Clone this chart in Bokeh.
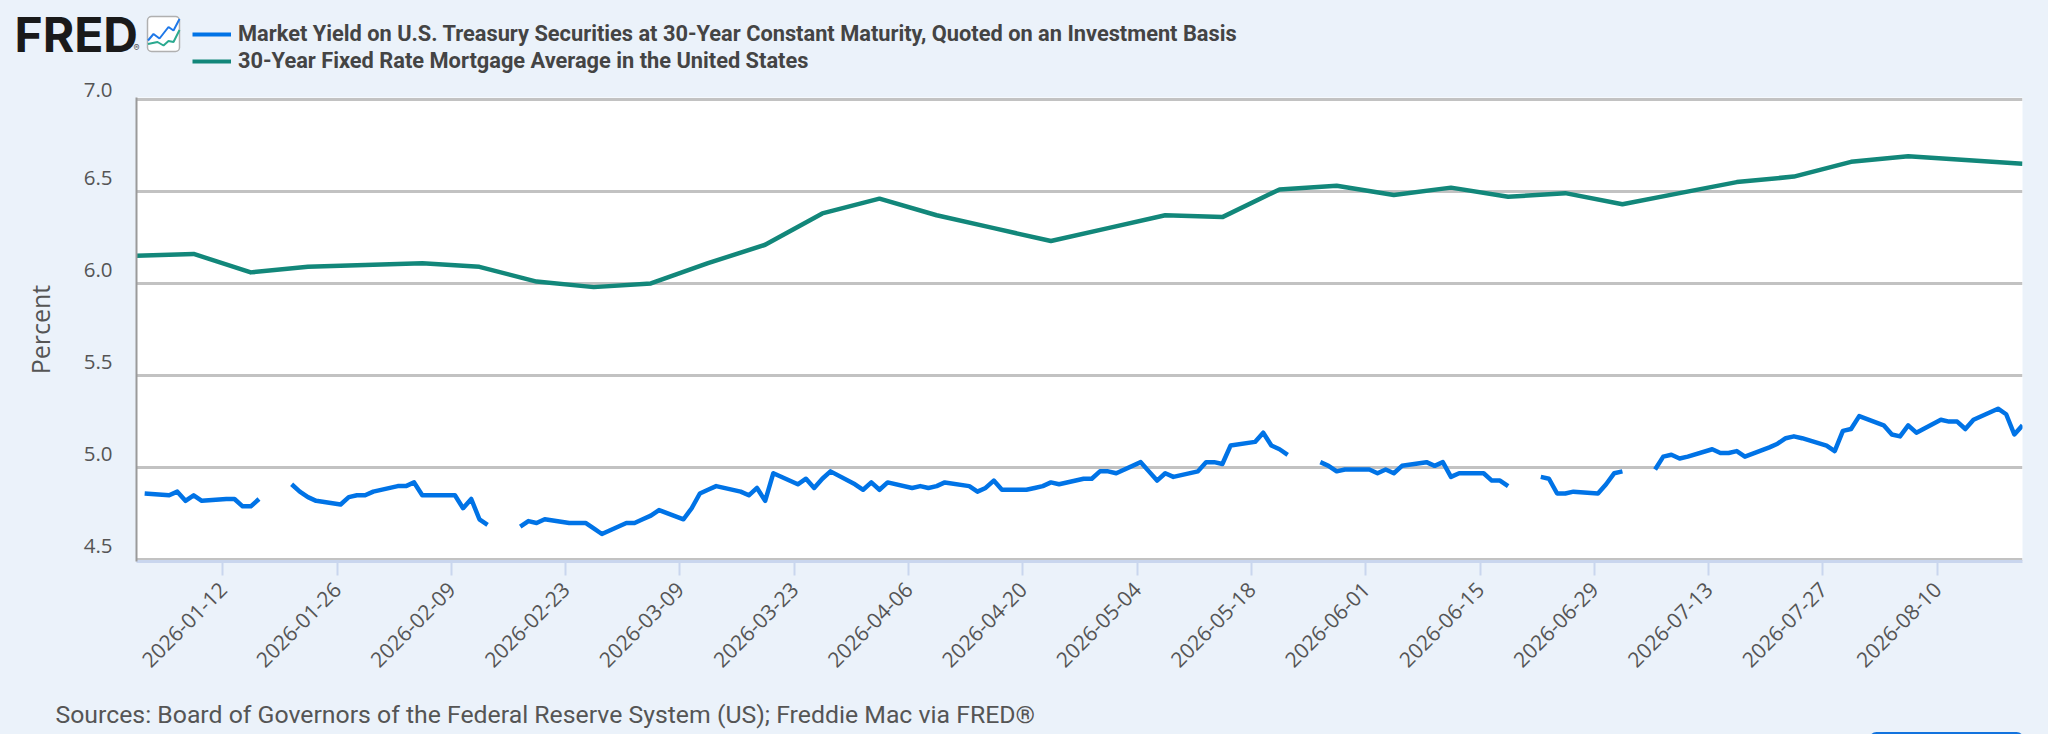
import numpy as np
import pandas as pd
from bokeh.core.properties import value
from bokeh.embed import file_html
from bokeh.layouts import column
from bokeh.resources import INLINE
from bokeh.plotting import figure
from bokeh.models import (FixedTicker, DatetimeTickFormatter, Range1d, Legend, LegendItem, BoxAnnotation)

SERIES_A = "Market Yield on U.S. Treasury Securities at 30-Year Constant Maturity, Quoted on an Investment Basis"
SERIES_B = "30-Year Fixed Rate Mortgage Average in the United States"
SOURCE = "Sources: Board of Governors of the Federal Reserve System (US); Freddie Mac via FRED\u00ae"
Y_LABEL = "Percent"

y_ticks = [4.5, 5.0, 5.5, 6.0, 6.5, 7.0]
y_tick_labels = ["4.5", "5.0", "5.5", "6.0", "6.5", "7.0"]
x_tick_dates = ["2026-01-12", "2026-01-26", "2026-02-09", "2026-02-23", "2026-03-09", "2026-03-23",
                "2026-04-06", "2026-04-20", "2026-05-04", "2026-05-18", "2026-06-01", "2026-06-15",
                "2026-06-29", "2026-07-13", "2026-07-27", "2026-08-10"]

# business days from 2026-01-02 to 2026-08-20 (None = market holiday)
treasury = [4.86,
    4.85, 4.87, 4.82, 4.85, 4.82,
    4.83, 4.83, 4.79, 4.79, 4.83,
    None, 4.91, 4.87, 4.84, 4.82,
    4.80, 4.84, 4.85, 4.85, 4.87,
    4.90, 4.90, 4.92, 4.85, 4.85,
    4.85, 4.78, 4.83, 4.72, 4.69,
    None, 4.68, 4.71, 4.70, 4.72,
    4.70, 4.70, 4.70, 4.67, 4.64,
    4.70, 4.70, 4.72, 4.74, 4.77,
    4.72, 4.78, 4.86, 4.88, 4.90,
    4.87, 4.85, 4.89, 4.82, 4.97,
    4.91, 4.94, 4.89, 4.94, 4.98,
    4.91, 4.88, 4.92, 4.88, 4.92,
    4.89, 4.90, 4.89, 4.90, 4.92,
    4.90, 4.87, 4.89, 4.93, 4.88,
    4.88, 4.89, 4.90, 4.92, 4.91,
    4.94, 4.94, 4.98, 4.98, 4.97,
    5.03, 4.98, 4.93, 4.97, 4.95,
    4.98, 5.03, 5.03, 5.02, 5.12,
    5.14, 5.19, 5.12, 5.10, 5.07,
    None, 5.03, 5.01, 4.98, 4.99,
    4.99, 4.97, 4.99, 4.97, 5.01,
    5.03, 5.01, 5.03, 4.95, 4.97,
    4.97, 4.93, 4.93, 4.90, None,
    4.95, 4.94, 4.86, 4.86, 4.87,
    4.86, 4.91, 4.97, 4.98, None,
    4.99, 5.06, 5.07, 5.05, 5.06,
    5.10, 5.08, 5.08, 5.09, 5.06,
    5.11, 5.13, 5.16, 5.17, 5.16,
    5.12, 5.09, 5.20, 5.21, 5.28,
    5.23, 5.18, 5.17, 5.23, 5.19,
    5.26, 5.25, 5.25, 5.21, 5.26,
    5.32, 5.29, 5.18, 5.23]

# Thursdays from 2026-01-01 to 2026-08-20
mortgage = [6.15, 6.16, 6.06, 6.09, 6.10, 6.11, 6.09, 6.01, 5.98, 6.00, 6.11, 6.21, 6.38,
            6.46, 6.37, 6.30, 6.23, 6.30, 6.37, 6.36, 6.51, 6.53, 6.48, 6.52, 6.47, 6.49,
            6.43, 6.49, 6.55, 6.58, 6.66, 6.69, 6.67, 6.65]

BG = "#ebf2fa"
BLUE = "#0073e6"
GREEN = "#12877a"
TXT = "#555555"
LW = 4.5

shift = pd.Timedelta(hours=10.5)   # points sit half a day right of the midnight ticks
treasury_x = pd.bdate_range("2026-01-02", "2026-08-20") + shift
mortgage_x = pd.date_range("2026-01-01", "2026-08-20", freq="7D") + shift
treasury_y = np.array([np.nan if v is None else v for v in treasury], dtype=float)
x_start, x_end = mortgage_x[0], mortgage_x[-1]

W = 2048
HEAD_H, MAIN_H, FOOT_H = 74, 616, 44
L, T, FW, FH = 136, 23, 1886, 464
pad = 0.0092   # keeps the 7.0 and 4.5 rules from being cut by the plot edge

# ---------- main chart
p = figure(width=W, height=MAIN_H, output_backend="svg", toolbar_location=None, x_axis_type="datetime",
           x_range=Range1d(x_start, x_end), y_range=Range1d(4.5 - pad, 7.0 + pad),
           min_border_left=L, min_border_top=T, min_border_right=W - L - FW, min_border_bottom=MAIN_H - T - FH,
           background_fill_color="white", border_fill_color=BG, outline_line_color=None, frame_align=False)

p.xgrid.visible = False
p.ygrid.ticker = FixedTicker(ticks=y_ticks)
p.ygrid.grid_line_color = "#c2c2c2"
p.ygrid.grid_line_width = 3

ya = p.yaxis[0]
ya.ticker = FixedTicker(ticks=y_ticks)
# the blank second line lifts each label above its rule, as in the reference
ya.major_label_overrides = {v: t + "\n " for v, t in zip(y_ticks, y_tick_labels)}
ya.major_label_text_font = "Open Sans"
ya.major_label_text_font_size = "20.5px"
ya.major_label_text_line_height = 1.05
ya.major_label_text_color = TXT
ya.major_label_standoff = 18
ya.major_tick_line_color = None
ya.minor_tick_line_color = None
ya.axis_line_color = "#9a9a9a"
ya.axis_line_width = 2
ya.axis_label = Y_LABEL
ya.axis_label_text_font = "Open Sans"
ya.axis_label_text_font_size = "25px"
ya.axis_label_text_font_style = "normal"
ya.axis_label_text_color = TXT
ya.axis_label_standoff = 24

xa = p.xaxis[0]
xa.ticker = FixedTicker(ticks=[pd.Timestamp(d).value / 1e6 for d in x_tick_dates])
fmt = "%Y-%m-%d"
xa.formatter = DatetimeTickFormatter(days=fmt, months=fmt, years=fmt, hours=fmt, minutes=fmt, seconds=fmt,
                                     milliseconds=fmt, microseconds=fmt, hourmin=fmt, minsec=fmt)
xa.major_label_orientation = np.pi / 4
xa.major_label_text_font = "Open Sans"
xa.major_label_text_font_size = "21px"
xa.major_label_text_color = TXT
xa.major_label_standoff = 10
xa.major_tick_in = 0
xa.major_tick_out = 14
xa.minor_tick_line_color = None
xa.major_tick_line_color = "#c9d6ee"
xa.major_tick_line_width = 2
xa.axis_line_color = "#c9d6ee"
xa.axis_line_width = 3

p.line(treasury_x, treasury_y, line_color=BLUE, line_width=LW, line_join="round")
p.line(mortgage_x, mortgage, line_color=GREEN, line_width=LW, line_join="round")

# ---------- header: logo, icon, legend (coordinates are page pixels)
head = figure(width=W, height=HEAD_H, output_backend="svg", toolbar_location=None,
              x_range=Range1d(0, W), y_range=Range1d(HEAD_H, 0), x_axis_location=None, y_axis_location=None,
              min_border=0, background_fill_color=BG, border_fill_color=BG, outline_line_color=None,
              frame_align=False)
head.grid.visible = False
head.text([14], [33.5], text=["FRED"], text_font=value("Inter"), text_font_style="bold", text_font_size="48px",
          text_color="#1a1a1a", text_baseline="middle")
head.text([133], [47], text=["\u00ae"], text_font=value("Inter"), text_font_size="9px",
          text_color="#555555", text_baseline="middle")
head.add_layout(BoxAnnotation(left=147, right=179, top=16, bottom=51, fill_color="white", fill_alpha=1,
                              line_color="#b0b0b0", line_alpha=1, line_width=1.5, border_radius=4, level="glyph"))
head.line([147.5, 153, 159, 168, 173, 179], [40, 33.5, 38, 26.5, 30, 18.5], line_color="#1f78e8", line_width=2,
          level="overlay")
head.line([147.5, 157, 163, 168, 173, 179], [43.5, 41.5, 45, 40.5, 41.5, 29.5], line_color="#2aa98f", line_width=2,
          level="overlay")
key_a = head.line([np.nan], [np.nan], line_color=BLUE, line_width=4)
key_b = head.line([np.nan], [np.nan], line_color=GREEN, line_width=4)
legend = Legend(items=[LegendItem(label=SERIES_A, renderers=[key_a]), LegendItem(label=SERIES_B, renderers=[key_b])],
                location=(192, 1), orientation="vertical", border_line_color=None,
                background_fill_alpha=0, margin=0, padding=0, spacing=2,
                glyph_width=39, glyph_height=22, label_height=22, label_standoff=7,
                label_text_font="Roboto", label_text_font_style="bold", label_text_font_size="21.8px",
                label_text_color="#444444", label_text_baseline="middle")
head.add_layout(legend, "center")

# ---------- footer: sources and the top edge of the page's button
foot = figure(width=W, height=FOOT_H, output_backend="svg", toolbar_location=None,
              x_range=Range1d(0, W), y_range=Range1d(734, 690), x_axis_location=None, y_axis_location=None,
              min_border=0, background_fill_color=BG, border_fill_color=BG, outline_line_color=None,
              frame_align=False)
foot.grid.visible = False
foot.text([55], [714], text=[SOURCE], text_font=value("Roboto"), text_font_size="24.8px", text_color=TXT,
          text_baseline="middle")
foot.add_layout(BoxAnnotation(left=1870, right=2022, top=733, bottom=760, fill_alpha=0, line_color="#1273de",
                              line_alpha=1, line_width=3, border_radius=6))

page = column(head, p, foot, spacing=0)
html = file_html(page, INLINE)
html = html.replace("<body>", f'<body style="background:{BG};overflow:hidden">')
open("out.html", "w").write(html)
